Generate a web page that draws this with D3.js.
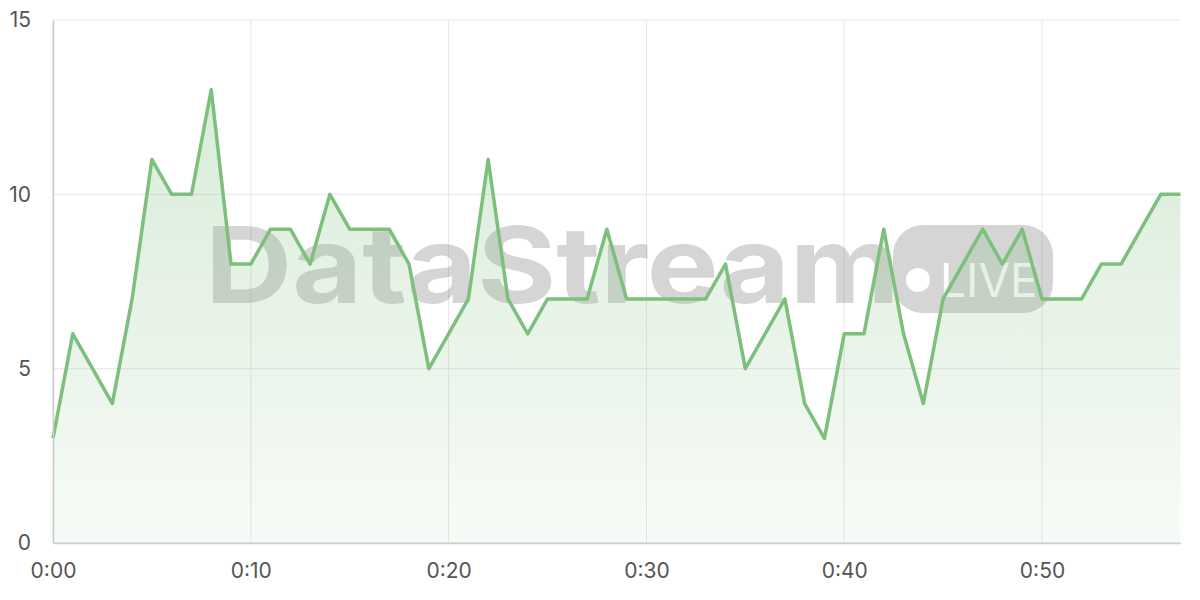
<!DOCTYPE html>
<html>
<head>
<meta charset="utf-8">
<script src="https://cdn.jsdelivr.net/npm/d3@7"></script>
<style>
body { margin: 0; background: #fff; }
</style>
</head>
<body>
<div id="chart"></div>
<script>
const minutes = d3.range(0, 58);
const values = [3, 6, 5, 4, 7, 11, 10, 10, 13, 8, 8, 9, 9, 8, 10, 9, 9, 9, 8, 5,
	6, 7, 11, 7, 6, 7, 7, 7, 9, 7, 7, 7, 7, 7, 8, 5, 6, 7, 4, 3,
	6, 6, 9, 6, 4, 7, 8, 9, 8, 9, 7, 7, 7, 8, 8, 9, 10, 10];
const yTicks = [0, 5, 10, 15];
const xTicks = [0, 10, 20, 30, 40, 50];

const width = 1200, height = 600;
const margin = { top: 20, right: 20, bottom: 57, left: 53 };

const svg = d3.select('#chart').append('svg')
	.attr('width', width)
	.attr('height', height)
	.style('font-family', 'Inter, sans-serif');

const x = d3.scaleLinear().domain([0, 57]).range([margin.left, margin.left + 57 * 19.78]);
const y = d3.scaleLinear().domain([0, 15]).range([height - margin.bottom, margin.top]);

const defs = svg.append('defs');
const grad = defs.append('linearGradient')
	.attr('id', 'fill').attr('x1', 0).attr('x2', 0).attr('y1', 0).attr('y2', 1);
grad.append('stop').attr('offset', '0%').attr('stop-color', '#7dbf7d').attr('stop-opacity', 0.3);
grad.append('stop').attr('offset', '100%').attr('stop-color', '#7dbf7d').attr('stop-opacity', 0.06);

// grid
svg.append('g').selectAll('line').data(yTicks).join('line')
	.attr('x1', margin.left).attr('x2', width - margin.right)
	.attr('y1', d => y(d)).attr('y2', d => y(d))
	.attr('stroke', '#e6e6e6');
svg.append('g').selectAll('line').data(xTicks).join('line')
	.attr('x1', d => x(d)).attr('x2', d => x(d))
	.attr('y1', margin.top).attr('y2', height - margin.bottom)
	.attr('stroke', '#e6e6e6');

// watermark
const wm = svg.append('g').attr('opacity', 0.2);
wm.append('text')
	.attr('x', 205).attr('y', 303)
	.attr('font-size', 106).attr('font-weight', 700)
	.attr('fill', '#333')
	.attr('textLength', 695).attr('lengthAdjust', 'spacingAndGlyphs')
	.text('DataStream');
wm.append('rect')
	.attr('x', 893).attr('y', 225).attr('width', 160).attr('height', 88).attr('rx', 30)
	.attr('fill', '#333');
wm.append('circle').attr('cx', 918).attr('cy', 280).attr('r', 12).attr('fill', '#fff');
wm.append('text')
	.attr('x', 940).attr('y', 297).attr('font-size', 46)
	.attr('fill', '#fff').text('LIVE');

// area + line
const pts = minutes.map((m, i) => [m, values[i]]);
svg.append('path').datum(pts)
	.attr('fill', 'url(#fill)')
	.attr('d', d3.area().x(d => x(d[0])).y0(y(0)).y1(d => y(d[1])));
svg.append('path').datum(pts)
	.attr('fill', 'none').attr('stroke', '#7dbf7d').attr('stroke-width', 3.5)
	.attr('stroke-linejoin', 'round')
	.attr('d', d3.line().x(d => x(d[0])).y(d => y(d[1])));

// axes
const yAxis = svg.append('g').attr('transform', `translate(${margin.left},0)`)
	.call(d3.axisLeft(y).tickValues(yTicks).tickSize(0).tickPadding(22));
const xAxis = svg.append('g').attr('transform', `translate(0,${height - margin.bottom})`)
	.call(d3.axisBottom(x).tickValues(xTicks).tickSize(0).tickPadding(20)
		.tickFormat(d => '0:' + String(d).padStart(2, '0')));
[yAxis, xAxis].forEach(a => {
	a.select('.domain').attr('stroke', '#ccc').attr('stroke-width', 1.5);
	a.selectAll('text').attr('font-size', 21).attr('fill', '#555').attr('font-family', 'Inter, sans-serif');
});
</script>
</body>
</html>
